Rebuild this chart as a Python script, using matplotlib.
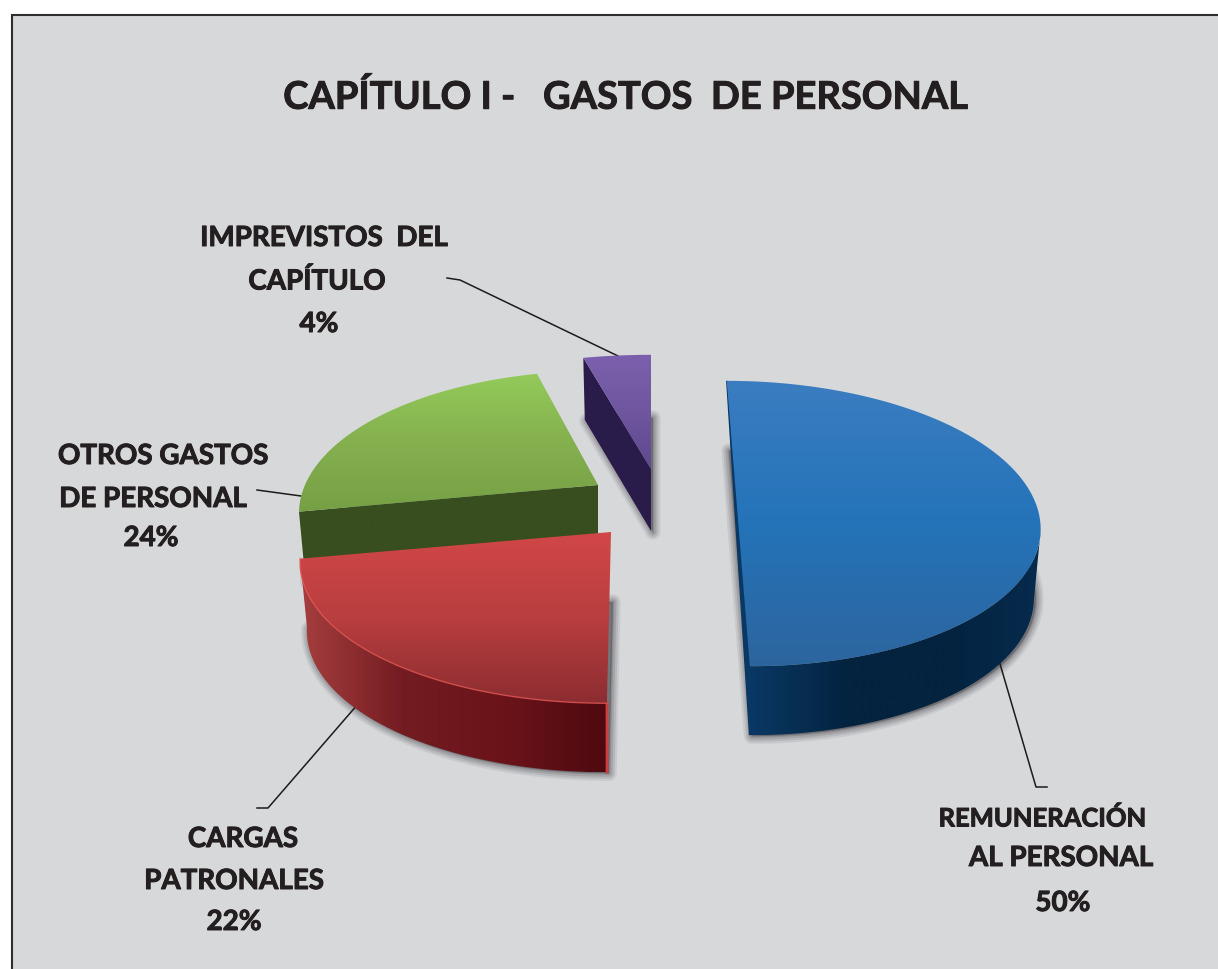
import numpy as np
import matplotlib
matplotlib.use('Agg')
import matplotlib.pyplot as plt
import matplotlib.patheffects as pe
from matplotlib.colors import LinearSegmentedColormap
from matplotlib.patches import Polygon, Rectangle

# chart values
names = [['REMUNERACIÓN', 'AL PERSONAL'], ['CARGAS', 'PATRONALES'], ['OTROS GASTOS', 'DE PERSONAL'], ['IMPREVISTOS  DEL', 'CAPÍTULO']]
shares = [50, 22, 24, 4]
title = 'CAPÍTULO I -   GASTOS  DE PERSONAL'

# where each exploded slice sits, in pixels
apex_x = [736, 611, 598, 651]
apex_y = [496, 533, 486, 470]
radius_x = [296, 304, 293, 325]
skew = [0.081, -0.0235, 0.0, 0.0]
depth = [69, 69, 70, 62]

top_colors = [['#3b7dc1', '#2473b9', '#2d659e'],
              ['#d24747', '#b93e3f', '#8c2d31'],
              ['#93ca5a', '#84b04e', '#75a045'],
              ['#7c60ae', '#6f569f', '#5f498e']]
wall_colors = [['#0a3864', '#03233f', '#03233f', '#072b4e'],
               ['#a63e3e', '#731c22', '#6a141a', '#4e090f'],
               ['#384e1f', '#384e1f'],
               ['#2a1c4a', '#2a1c4a']]

RY = 137.0
K = 0.2
W, H = 1218, 970

fig = plt.figure(figsize=(W / 100, H / 100), dpi=100, facecolor='white')
ax = fig.add_axes([0, 0, 1, 1])
ax.set_xlim(0, W)
ax.set_ylim(H, 0)
ax.axis('off')

ax.add_patch(Rectangle((12, 16), W, H, fc='#d7d8da', ec='#2e2e2e', lw=1.5, zorder=0))


def rim(i, th):
    # tilted disc with a little perspective, th is clockwise from 12 o'clock
    u, v = np.sin(th), np.cos(th)
    w = 1 + K * v
    y = -RY * v / w
    x = radius_x[i] * u / w + skew[i] * y
    return apex_x[i] + x, apex_y[i] + y


def grad_fill(pts, colors, horizontal=False, zorder=2):
    pts = np.array(pts)
    x0, y0 = pts.min(axis=0)
    x1, y1 = pts.max(axis=0)
    cmap = LinearSegmentedColormap.from_list('g', colors)
    g = np.linspace(0, 1, 256)
    g = g[None, :] if horizontal else g[:, None]
    im = ax.imshow(g, cmap=cmap, extent=[x0, x1, y1, y0], aspect='auto', zorder=zorder, interpolation='bilinear')
    clip = Polygon(pts, transform=ax.transData, fc='none', ec='none')
    ax.add_patch(clip)
    im.set_clip_path(clip)
    ax.set_xlim(0, W)
    ax.set_ylim(H, 0)


def lower(i, pts):
    # bottom edge of the slice, a bit narrower than the top
    pts = np.array(pts)
    out = pts.copy()
    out[:, 0] = apex_x[i] + (pts[:, 0] - apex_x[i]) * 0.978
    out[:, 1] = pts[:, 1] + depth[i]
    return out


fracs = np.array(shares) / sum(shares)
starts = np.concatenate([[0], np.cumsum(fracs)[:-1]]) * 2 * np.pi
ends = np.cumsum(fracs) * 2 * np.pi

faces = []
for i in range(len(shares)):
    th = np.linspace(starts[i], ends[i], 120)
    xs, ys = rim(i, th)
    arc = np.column_stack([xs, ys])
    apex = np.array([[apex_x[i], apex_y[i]]])
    faces.append((arc, apex))

# soft shadows under the bottom faces
for i in range(len(shares)):
    arc, apex = faces[i]
    poly = lower(i, np.vstack([apex, arc]))
    for lw, a in zip([11, 8, 5, 2], [0.10, 0.14, 0.18, 0.25]):
        ax.add_patch(Polygon(poly + [2, 1], fc=(0.3, 0.3, 0.32, a), ec=(0.3, 0.3, 0.32, a), lw=lw, joinstyle='round', zorder=1))

# drawing order back to front: purple, green, blue, red
for i, z in zip([3, 2, 0, 1], [2, 3, 4, 5]):
    arc, apex = faces[i]
    top = np.vstack([apex, arc])
    if i == 0:
        # cut face on the left plus the round wall in front
        ax.add_patch(Polygon(np.array([arc[0], arc[-1], lower(i, arc[-1:])[0]]), fc='#0a3864', ec='#0a3864', lw=1.0, zorder=z))
        front = arc[np.argmax(arc[:, 0]):]
        grad_fill(np.vstack([front, lower(i, front)[::-1]]), wall_colors[0], True, z)
    elif i == 1:
        grad_fill(np.vstack([arc, lower(i, arc)[::-1]]), wall_colors[1], True, z)
        r_edge = np.vstack([arc[0], lower(i, arc[:1])])
        ax.plot(r_edge[:, 0], r_edge[:, 1], color='#c8403f', lw=2, zorder=z)
    else:
        # inner face toward the viewer, green and purple
        pts = np.vstack([arc[0], apex, lower(i, apex), lower(i, arc[:1])])
        grad_fill(pts, wall_colors[i], False, z)
    grad_fill(top, top_colors[i], False, z + 0.5)
    if i == 1:
        ax.plot(arc[:, 0], arc[:, 1], color='#e25450', lw=1.0, alpha=0.8, zorder=z + 0.6)

# leader lines
line_c = '#1c1c1c'
ax.plot([447, 460, 618], [279, 281, 357], color=line_c, lw=1.1, zorder=1.5)
ax.plot([257, 301], [491, 497], color=line_c, lw=1.1, zorder=1.5)
ax.plot([257, 268, 358], [809, 809, 705], color=line_c, lw=1.1, zorder=1.5)
ax.plot([998, 1036, 1047], [658, 788, 788], color=line_c, lw=1.1, zorder=1.5)

# text, slight stroke since Lato Bold is thinner than the original face
heavy = [pe.withStroke(linewidth=0.7, foreground='#231f20')]
font = {'family': 'Lato', 'weight': 'bold', 'color': '#231f20', 'ha': 'center', 'va': 'center', 'path_effects': heavy}
ax.text(625, 98, title, fontsize=27.4, zorder=10, **font)

line1_x = [1042, 243, 163, 324]
line1_y = [819, 840, 457, 239]
line1_size = [18.4, 20, 20, 20]
line2_x = [1061, 234, 153, 317]
line2_y = [859, 882, 500, 282]
pct_x = [1063, 234, 151, 319]
pct_y = [904, 923, 539, 325]
for i in range(len(shares)):
    ax.text(line1_x[i], line1_y[i], names[i][0], fontsize=line1_size[i], zorder=10, **font)
    ax.text(line2_x[i], line2_y[i], names[i][1], fontsize=20, zorder=10, **font)
    ax.text(pct_x[i], pct_y[i], str(shares[i]) + '%', fontsize=20, zorder=10, **font)

fig.savefig('out.png', dpi=100)
